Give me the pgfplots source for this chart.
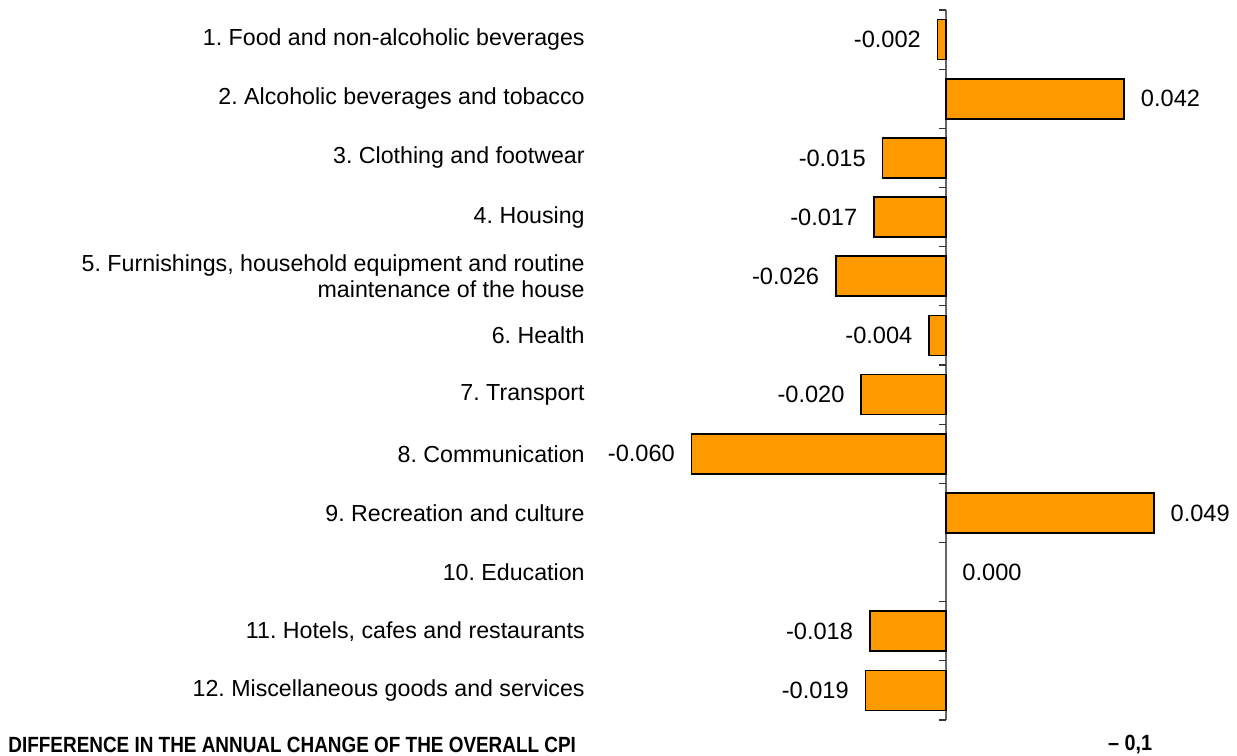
\documentclass[border=0pt]{standalone}
\usepackage{pgfplots}
\pgfplotsset{compat=1.18}
\usepackage{graphicx}
\usepackage{fontspec}
\setmainfont{Liberation Sans}
\frenchspacing
\definecolor{barorange}{HTML}{FF9900}
\begin{document}
\frenchspacing
\begin{tikzpicture}
\begin{axis}[
  scale only axis,
  width=318.5pt, height=378pt,
  xmin=-0.0816, xmax=0.0686,
  ymin=0.331, ymax=13.108,
  y dir=reverse,
  axis line style={draw=none},
  xtick=\empty,
  ytick={1,2,3,4,5,6,7,8,9,10,11,12},
  ytick style={draw=none},
  major tick length=0pt,
  yticklabels={
    1. Food and non-alcoholic beverages,
    2. Alcoholic beverages and tobacco,
    3. Clothing and footwear,
    4. Housing,
    {5. Furnishings, household equipment and routine\\maintenance of the house},
    6. Health,
    7. Transport,
    8. Communication,
    9. Recreation and culture,
    10. Education,
    {11. Hotels, cafes and restaurants},
    12. Miscellaneous goods and services},
  yticklabel style={align=right, inner sep=0pt, xshift=-7.5pt, font=\frenchspacing\fontsize{11.6}{13.2}\selectfont},
  clip=false,
  xbar,
  bar width=20pt,
  bar shift=0pt,
  nodes near coords,
  nodes near coords align={horizontal},
  point meta=x,
  /pgf/number format/fixed,
  /pgf/number format/fixed zerofill,
  /pgf/number format/precision=3,
  /pgf/number format/assume math mode=true,
  every node near coord/.append style={font=\fontsize{11.8}{13}\selectfont, inner xsep=8pt, inner ysep=0pt, overlay},
]
\draw[gray!80!black, line width=0.8pt] (axis cs:0,0.5) -- (axis cs:0,12.5);
\pgfplotsinvokeforeach{0.5,1.5,2.5,3.5,4.5,5.5,6.5,7.5,8.5,9.5,10.5,11.5,12.5}{
  \draw[black!80, line width=0.6pt] (axis cs:0,#1) -- ([xshift=-3.5pt]axis cs:0,#1);
}
\addplot[draw=black, line width=0.8pt, fill=barorange] coordinates {
  (-0.002,1) (0.042,2) (-0.015,3) (-0.017,4) (-0.026,5) (-0.004,6)
  (-0.020,7) (-0.060,8) (0.049,9) (-0.018,11) (-0.019,12)
};
\addplot[draw=none, fill=none] coordinates {(0.000,10)};
\node[anchor=west, inner sep=0pt, font=\bfseries\fontsize{11}{13}\selectfont] at (axis cs:-0.2212,12.922)
  {\scalebox{0.86}[1]{DIFFERENCE IN THE ANNUAL CHANGE OF THE OVERALL CPI}};
\node[inner sep=0pt, font=\bfseries\fontsize{11}{13}\selectfont] at (axis cs:0.0434,12.922)
  {\scalebox{0.9}[1]{– 0,1}};
\path (axis cs:-0.2231,0.331) -- (axis cs:-0.2231,13.108);
\end{axis}
\end{tikzpicture}
\end{document}
